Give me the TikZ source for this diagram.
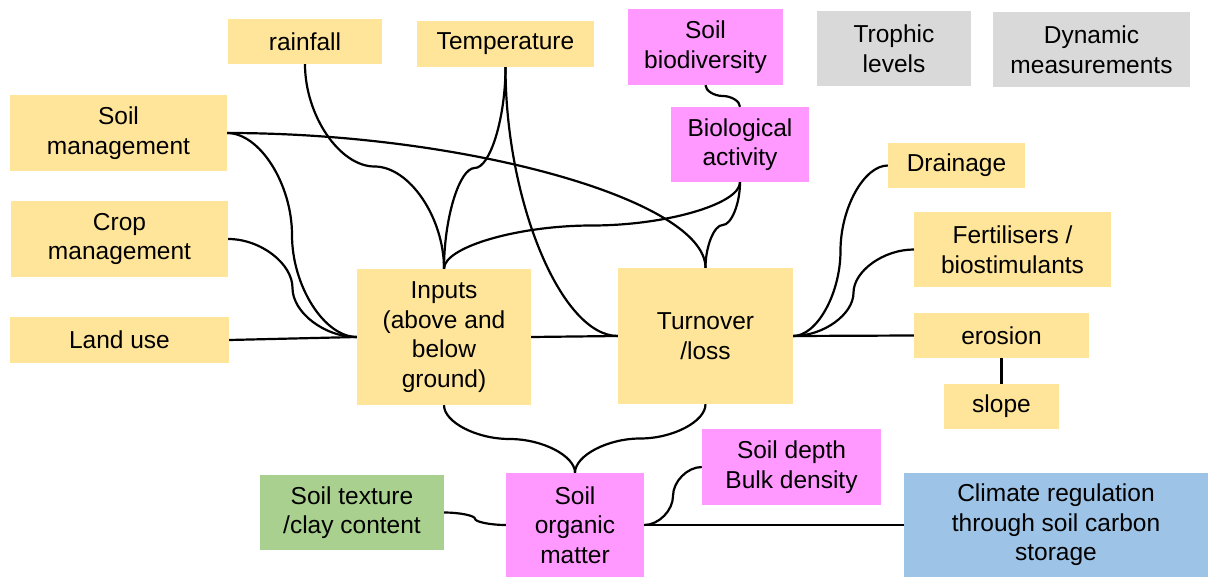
\documentclass[tikz,border=0pt]{standalone}
\usepackage{fontspec}
\setmainfont{Liberation Sans}
\usepackage{tikz}
\usetikzlibrary{calc}
\definecolor{boxyellow}{RGB}{255,229,153}
\definecolor{boxpink}{RGB}{255,153,255}
\definecolor{boxgray}{RGB}{217,217,217}
\definecolor{boxgreen}{RGB}{169,208,142}
\definecolor{boxblue}{RGB}{157,195,230}

\begin{document}
\begin{tikzpicture}[
  x=1pt, y=1pt,
  box/.style 2 args={inner sep=0pt, align=center, minimum width=#1pt, minimum height=#2pt,
    font=\fontsize{24.5}{29.5}\selectfont},
  yel/.style={fill=boxyellow},
  pnk/.style={fill=boxpink},
  gry/.style={fill=boxgray},
  grn/.style={fill=boxgreen},
  blu/.style={fill=boxblue},
  link/.style={line width=2.2pt, black}
]
  \useasboundingbox (0,0) rectangle (1208,-577);
  % --- top row ---
  \node[box={154}{45}, yel] (rain) at (305,-41.5) {rainfall};
  \node[box={177}{46}, yel] (temp) at (505.5,-44) {Temperature};
  \node[box={155}{76}, pnk] (sbio) at (705.5,-47) {Soil\\biodiversity};
  \node[box={154}{75}, gry] (troph) at (894,-48.5) {Trophic\\levels};
  \node[box={197}{75}, gry] (dyn) at (1091.5,-49.5) {Dynamic\\measurements};
  % --- left column ---
  \node[box={217}{76}, yel] (sman) at (118.5,-133) {Soil\\management};
  \node[box={217}{76}, yel] (cman) at (119.5,-239) {Crop\\management};
  \node[box={219}{46}, yel] (land) at (119.5,-340) {Land use};
  % --- middle ---
  \node[box={138}{75}, pnk] (bio) at (740,-144.5) {Biological\\activity};
  \node[box={174}{136}, yel] (inp) at (444,-337) {Inputs\\(above and\\below\\ground)};
  \node[box={175}{136}, yel] (turn) at (705.5,-336) {Turnover\\/loss};
  % --- right column ---
  \node[box={137}{45}, yel] (drain) at (956.5,-165.5) {Drainage};
  \node[box={197}{75}, yel] (fert) at (1012.5,-249.5) {Fertilisers /\\biostimulants};
  \node[box={175}{45}, yel] (eros) at (1001.5,-335.5) {erosion};
  \node[box={115}{45}, yel] (slope) at (1001.5,-406.5) {slope};
  % --- bottom row ---
  \node[box={179}{76}, pnk] (sdep) at (791.5,-467) {Soil depth\\Bulk density};
  \node[box={184}{75}, grn] (stex) at (352,-512.5) {Soil texture\\/clay content};
  \node[box={138}{104}, pnk] (som) at (575,-525) {Soil\\organic\\matter};
  \node[box={304}{104}, blu] (clim) at (1056,-525) {Climate regulation\\through soil carbon\\storage};

  % --- connectors into inputs ---
  \draw[link] (sman.east) .. controls +(32.5,0) and +(0,51) .. ($(sman.east)!.5!(inp.west)$)
    .. controls +(0,-51) and +(-32.5,0) .. (inp.west);
  \draw[link] (cman.east) .. controls +(32.3,0) and +(0,24.5) .. ($(cman.east)!.5!(inp.west)$)
    .. controls +(0,-24.5) and +(-32.3,0) .. (inp.west);
  \draw[link] (land.east) -- (inp.west);
  \draw[link] (rain.south) .. controls +(0,-51.3) and +(-34.8,0) .. ($(rain.south)!.5!(inp.north)$)
    .. controls +(34.8,0) and +(0,51.3) .. (inp.north);
  \draw[link] (temp.south) .. controls +(0,-50.5) and +(15.4,0) .. ($(temp.south)!.5!(inp.north)$)
    .. controls +(-15.4,0) and +(0,50.5) .. (inp.north);
  \draw[link] (bio.south) .. controls +(0,-21.8) and +(74,0) .. ($(bio.south)!.5!(inp.north)$)
    .. controls +(-74,0) and +(0,21.8) .. (inp.north);
  % --- connectors into turnover ---
  \draw[link] (sman.east) .. controls +(239,0) and +(0,67.5) .. (turn.north);
  \draw[link] (temp.south) .. controls +(0,-134.5) and +(-56.3,0) .. (turn.west);
  \draw[link] (inp.east) -- (turn.west);
  \draw[link] (bio.south) .. controls +(0,-21.5) and +(8.6,0) .. ($(bio.south)!.5!(turn.north)$)
    .. controls +(-8.6,0) and +(0,21.5) .. (turn.north);
  \draw[link] (sbio.south) .. controls +(0,-5.5) and +(-8.6,0) .. ($(sbio.south)!.5!(bio.north)$)
    .. controls +(8.6,0) and +(0,5.5) .. (bio.north);
  \draw[link] (turn.east) .. controls +(23.8,0) and +(0,-42.6) .. ($(turn.east)!.5!(drain.west)$)
    .. controls +(0,42.6) and +(-23.8,0) .. (drain.west);
  \draw[link] (turn.east) .. controls +(30.3,0) and +(0,-21.6) .. ($(turn.east)!.5!(fert.west)$)
    .. controls +(0,21.6) and +(-30.3,0) .. (fert.west);
  \draw[link] (turn.east) -- (eros.west);
  \draw[link] (eros.south) -- (slope.north);
  % --- connectors round soil organic matter ---
  \draw[link] (inp.south) .. controls +(0,-17) and +(-32.8,0) .. ($(inp.south)!.5!(som.north)$)
    .. controls +(32.8,0) and +(0,17) .. (som.north);
  \draw[link] (turn.south) .. controls +(0,-17.3) and +(32.6,0) .. ($(turn.south)!.5!(som.north)$)
    .. controls +(-32.6,0) and +(0,17.3) .. (som.north);
  \draw[link] (stex.east) .. controls +(15.5,0) and +(0,3.1) .. ($(stex.east)!.5!(som.west)$)
    .. controls +(0,-3.1) and +(-15.5,0) .. (som.west);
  \draw[link] (som.east) .. controls +(14.5,0) and +(0,-14.5) .. ($(som.east)!.5!(sdep.west)$)
    .. controls +(0,14.5) and +(-14.5,0) .. (sdep.west);
  \draw[link] (som.east) -- (clim.west);
\end{tikzpicture}
\end{document}
